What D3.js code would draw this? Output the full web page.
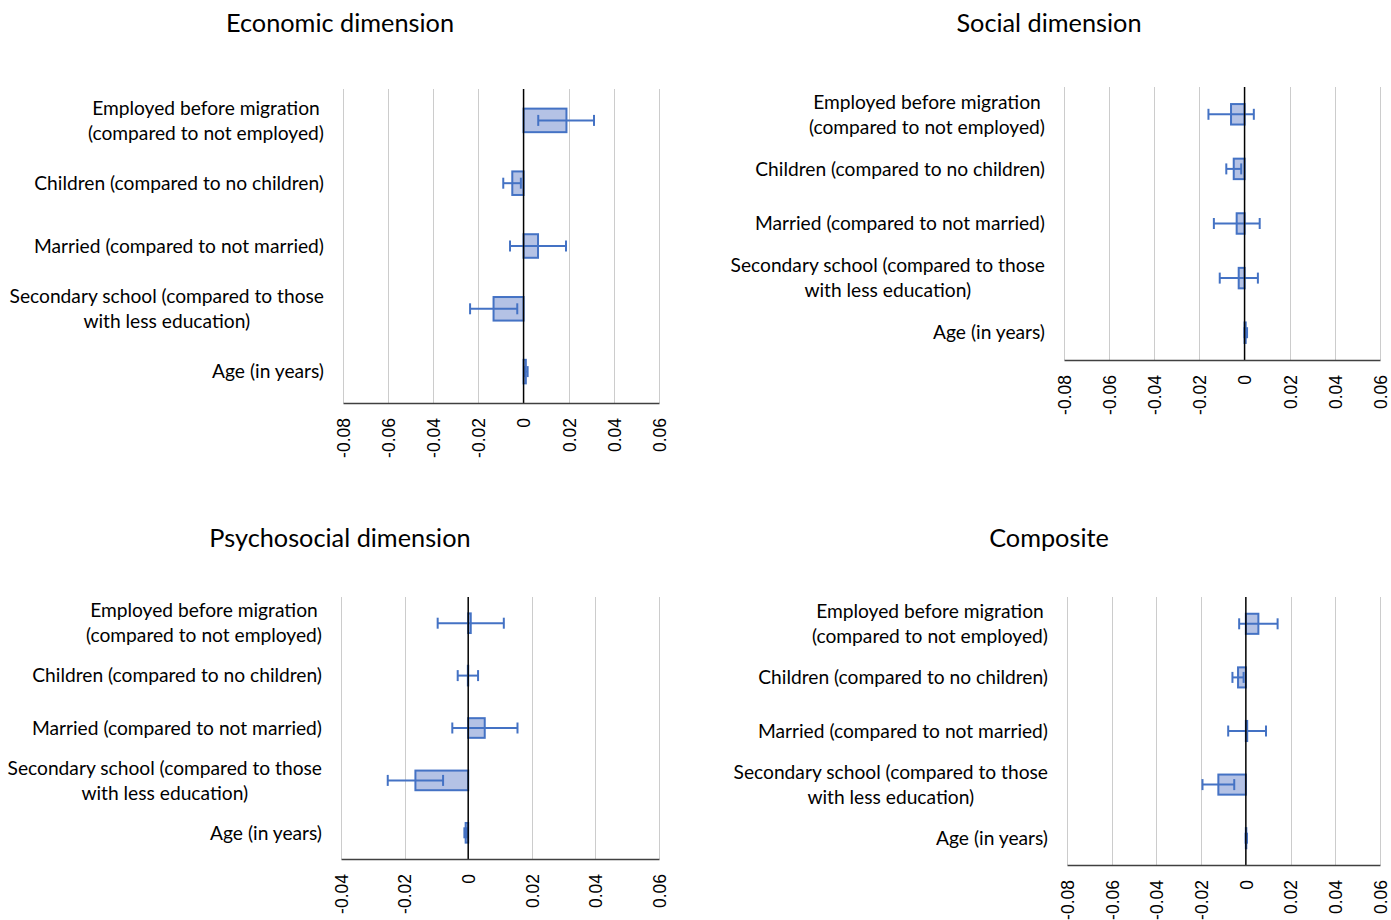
<!DOCTYPE html>
<html>
<head>
<meta charset="utf-8">
<script src="https://cdn.jsdelivr.net/npm/d3@7"></script>
<style>
  html, body { margin: 0; padding: 0; background: #ffffff; }
  svg { display: block; }
</style>
</head>
<body>
<svg id="chart" width="1391" height="920"></svg>
<script>
// ---------------- DATA ----------------
const categories = [
  "Employed before migration (compared to not employed)",
  "Children (compared to no children)",
  "Married (compared to not married)",
  "Secondary school (compared to those with less education)",
  "Age (in years)"
];
const categoryLines = [
  ["Employed before migration", "(compared to not employed)"],
  ["Children (compared to no children)"],
  ["Married (compared to not married)"],
  ["Secondary school (compared to those", "with less education)"],
  ["Age (in years)"]
];

const panelTitles = ["Economic dimension", "Social dimension", "Psychosocial dimension", "Composite"];

const economicValues = [0.0190, -0.0050, 0.0064, -0.0133, 0.0010];
const economicLow    = [0.0065, -0.0090, -0.0060, -0.0237, 0.0002];
const economicHigh   = [0.0312, -0.0012, 0.0188, -0.0028, 0.0018];

const socialValues = [-0.0060, -0.0048, -0.0035, -0.0026, 0.0005];
const socialLow    = [-0.0160, -0.0081, -0.0136, -0.0110, 0.0000];
const socialHigh   = [0.0041, -0.0015, 0.0067, 0.0059, 0.0011];

const psychosocialValues = [0.0008, -0.0001, 0.0052, -0.0166, -0.0008];
const psychosocialLow    = [-0.0096, -0.0033, -0.0050, -0.0253, -0.0012];
const psychosocialHigh   = [0.0112, 0.0031, 0.0155, -0.0079, -0.0004];

const compositeValues = [0.0056, -0.0035, 0.0006, -0.0123, 0.0002];
const compositeLow    = [-0.0030, -0.0060, -0.0079, -0.0194, -0.0001];
const compositeHigh   = [0.0142, -0.0010, 0.0090, -0.0052, 0.0005];

const ticksWide   = [-0.08, -0.06, -0.04, -0.02, 0, 0.02, 0.04, 0.06];
const tickLabelsWide   = ["-0.08", "-0.06", "-0.04", "-0.02", "0", "0.02", "0.04", "0.06"];
const ticksNarrow = [-0.04, -0.02, 0, 0.02, 0.04, 0.06];
const tickLabelsNarrow = ["-0.04", "-0.02", "0", "0.02", "0.04", "0.06"];

// ---------------- LAYOUT ----------------
const panels = [
  { title: panelTitles[0], values: economicValues, low: economicLow, high: economicHigh,
    ticks: ticksWide, tickLabels: tickLabelsWide,
    box: { x0: 343, x1: 659, y0: 89, y1: 403 }, titleX: 340, titleY: 32 },
  { title: panelTitles[1], values: socialValues, low: socialLow, high: socialHigh,
    ticks: ticksWide, tickLabels: tickLabelsWide,
    box: { x0: 1064, x1: 1380, y0: 87, y1: 360 }, titleX: 1049, titleY: 32 },
  { title: panelTitles[2], values: psychosocialValues, low: psychosocialLow, high: psychosocialHigh,
    ticks: ticksNarrow, tickLabels: tickLabelsNarrow,
    box: { x0: 341, x1: 659, y0: 597, y1: 859 }, titleX: 340, titleY: 547 },
  { title: panelTitles[3], values: compositeValues, low: compositeLow, high: compositeHigh,
    ticks: ticksWide, tickLabels: tickLabelsWide,
    box: { x0: 1067, x1: 1380, y0: 597, y1: 865 }, titleX: 1049, titleY: 547 }
];

const BLUE = "#4472c4";
const FILL = "#b4c2e5";
const GRID = "#cccccc";
const TEXT_FONT = "Lato, 'Open Sans', sans-serif";
const TICK_FONT = "'Liberation Sans', Arial, sans-serif";

const svg = d3.select("#chart");

panels.forEach(p => {
  const g = svg.append("g");
  const b = p.box;
  const x = d3.scaleLinear()
    .domain([p.ticks[0], p.ticks[p.ticks.length - 1]])
    .range([b.x0, b.x1]);
  const y = d3.scaleBand()
    .domain(categories)
    .range([b.y0, b.y1])
    .paddingInner(0.625)
    .paddingOuter(0.3125);

  // Title
  g.append("text")
    .attr("x", p.titleX).attr("y", p.titleY)
    .attr("text-anchor", "middle")
    .style("font-family", TEXT_FONT)
    .style("font-size", "25.3px")
    .style("fill", "#000")
    .text(p.title);

  // Gridlines
  g.append("g").selectAll("line")
    .data(p.ticks.filter(t => t !== 0))
    .join("line")
    .attr("x1", d => Math.round(x(d)) + 0.5).attr("x2", d => Math.round(x(d)) + 0.5)
    .attr("y1", b.y0).attr("y2", b.y1)
    .attr("stroke", GRID).attr("stroke-width", 1);

  // Bars
  const idx = d3.range(categories.length);
  g.append("g").selectAll("rect")
    .data(idx)
    .join("rect")
    .attr("x", i => Math.min(x(0), x(p.values[i])))
    .attr("width", i => Math.abs(x(p.values[i]) - x(0)))
    .attr("y", i => y(categories[i]))
    .attr("height", y.bandwidth())
    .attr("fill", FILL)
    .attr("stroke", BLUE)
    .attr("stroke-width", 2);

  // Error bars
  const eg = g.append("g").attr("stroke", BLUE).attr("stroke-width", 2).attr("fill", "none");
  const cy = i => y(categories[i]) + y.bandwidth() / 2;
  eg.selectAll("line.h").data(idx).join("line").attr("class", "h")
    .attr("x1", i => x(p.low[i])).attr("x2", i => x(p.high[i]))
    .attr("y1", cy).attr("y2", cy);
  eg.selectAll("line.l").data(idx).join("line").attr("class", "l")
    .attr("x1", i => x(p.low[i])).attr("x2", i => x(p.low[i]))
    .attr("y1", i => cy(i) - 5.5).attr("y2", i => cy(i) + 5.5);
  eg.selectAll("line.r").data(idx).join("line").attr("class", "r")
    .attr("x1", i => x(p.high[i])).attr("x2", i => x(p.high[i]))
    .attr("y1", i => cy(i) - 5.5).attr("y2", i => cy(i) + 5.5);

  // Zero line (vertical category axis)
  g.append("line")
    .attr("x1", x(0)).attr("x2", x(0))
    .attr("y1", b.y0).attr("y2", b.y1)
    .attr("stroke", "#000").attr("stroke-width", 1.5);

  // Bottom value axis
  const axis = d3.axisBottom(x)
    .tickValues(p.ticks)
    .tickSize(0)
    .tickFormat((d, i) => p.tickLabels[i]);
  const ag = g.append("g")
    .attr("transform", `translate(0,${b.y1})`)
    .call(axis);
  ag.select(".domain").attr("stroke", "#404040").attr("stroke-width", 1.5);
  ag.selectAll("text")
    .attr("transform", "rotate(-90)")
    .attr("x", -15)
    .attr("y", 0)
    .attr("dy", "0.36em")
    .attr("text-anchor", "end")
    .style("font-family", TICK_FONT)
    .style("font-size", "17.5px")
    .style("fill", "#000");

  // Category labels (centered multiline blocks, right-aligned to the plot)
  const labelRight = b.x0 - 19;
  const lg = g.append("g")
    .style("font-family", TEXT_FONT)
    .style("font-size", "19.2px")
    .style("fill", "#000");
  idx.forEach(i => {
    const lines = categoryLines[i];
    const t = lg.append("text").attr("text-anchor", "middle");
    const lh = 25;
    const c = cy(i);
    lines.forEach((ln, k) => {
      t.append("tspan")
        .attr("x", 0)
        .attr("y", c + (k - (lines.length - 1) / 2) * lh)
        .attr("dy", "0.35em")
        .text(ln);
    });
    const w = t.node().getBBox().width;
    t.selectAll("tspan").attr("x", labelRight - w / 2);
  });
});
</script>
</body>
</html>
